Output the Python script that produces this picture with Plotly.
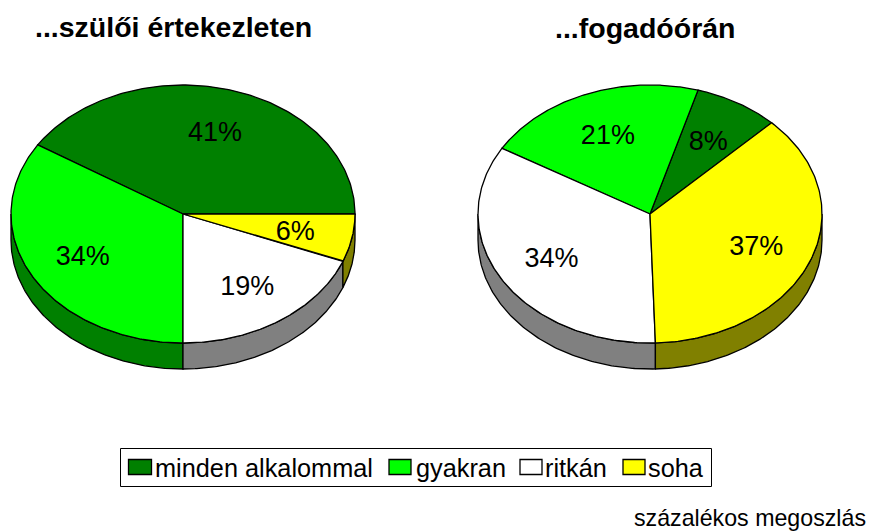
import numpy as np
import plotly.graph_objects as go

categories = ["minden alkalommal", "gyakran", "ritkán", "soha"]
szuloi_values = [41, 34, 19, 6]
fogado_values = [8, 21, 34, 37]
titles = ["...szülői értekezleten", "...fogadóórán"]
note = "százalékos megoszlás"

top_colors = ["#008000", "#00ff00", "#ffffff", "#ffff00"]
side_colors = ["#008000", "#008000", "#808080", "#808000"]

RX, RY, DEPTH = 172, 129, 26
LW = 1.3
FONT = "Liberation Sans, Arial, sans-serif"

fig = go.Figure()


def ell(cx, cy, deg):
    t = np.radians(deg)
    return cx + RX * np.cos(t), cy - RY * np.sin(t)


def draw_pie(values, cx, cy, start):
    total = sum(values)
    edges = [start]
    for v in values:
        edges.append(edges[-1] + 360 * v / total)
    # side walls
    for i, name in enumerate(categories):
        a, b = max(edges[i], 180), min(edges[i + 1], 360)
        if b <= a:
            continue
        ts = np.linspace(a, b, 120)
        x, y = ell(cx, cy, ts)
        px = np.concatenate([x, x[::-1], x[:1]])
        py = np.concatenate([y, (y + DEPTH)[::-1], y[:1]])
        fig.add_trace(go.Scatter(x=px, y=py, mode="lines", fill="toself", fillcolor=side_colors[i],
                                 line=dict(color="black", width=LW), name=name, showlegend=False,
                                 hoverinfo="skip"))
    # top wedges
    for i, name in enumerate(categories):
        ts = np.linspace(edges[i], edges[i + 1], 160)
        x, y = ell(cx, cy, ts)
        px = np.concatenate([[cx], x, [cx]])
        py = np.concatenate([[cy], y, [cy]])
        fig.add_trace(go.Scatter(x=px, y=py, mode="lines", fill="toself", fillcolor=top_colors[i],
                                 line=dict(color="black", width=LW), name=name, showlegend=False,
                                 hoverinfo="skip"))
    # percentage labels
    mids = [(edges[i] + edges[i + 1]) / 2 for i in range(len(values))]
    lx, ly = [], []
    for m in mids:
        t = np.radians(m)
        lx.append(cx + 0.665 * RX * np.cos(t))
        ly.append(cy + 3 - 0.665 * RY * np.sin(t))
    fig.add_trace(go.Scatter(x=lx, y=ly, mode="text", text=[f"{v}%" for v in values],
                             textposition="middle center", textfont=dict(family=FONT, size=27, color="black"),
                             showlegend=False, hoverinfo="skip"))


draw_pie(szuloi_values, 183, 214, 0)
draw_pie(fogado_values, 650, 214, 45)

annotations = [
    dict(x=173.5, y=27, text=f"<b>{titles[0]}</b>", font=dict(family=FONT, size=28.5, color="black")),
    dict(x=645, y=28, text=f"<b>{titles[1]}</b>", font=dict(family=FONT, size=28.5, color="black")),
    dict(x=867, y=518, text=note, xanchor="right", font=dict(family=FONT, size=23.2, color="black")),
]
shapes = [dict(type="rect", x0=120.5, x1=711.5, y0=448.5, y1=486.5, line=dict(color="black", width=1),
               fillcolor="white", layer="below")]
swatch_x = [(128.5, 151.5), (389, 411), (520, 542), (623, 645)]
text_x = [154, 415, 544, 647]
for i, name in enumerate(categories):
    shapes.append(dict(type="rect", x0=swatch_x[i][0], x1=swatch_x[i][1], y0=459.5, y1=474.5,
                       line=dict(color="black", width=1.3), fillcolor=top_colors[i]))
    annotations.append(dict(x=text_x[i], y=467.5, text=name, xanchor="left",
                            font=dict(family=FONT, size=25.3, color="black")))
for a in annotations:
    a.update(xref="x", yref="y", showarrow=False, yanchor="middle", borderpad=0)
    a.setdefault("xanchor", "center")
for s in shapes:
    s.update(xref="x", yref="y")

fig.update_layout(
    width=873, height=531, margin=dict(l=0, r=0, t=0, b=0),
    paper_bgcolor="white", plot_bgcolor="white", showlegend=False,
    xaxis=dict(range=[0, 873], visible=False, fixedrange=True),
    yaxis=dict(range=[531, 0], visible=False, fixedrange=True),
    annotations=annotations, shapes=shapes,
)
fig.write_html("out.html", config=dict(displayModeBar=False),
               post_script="document.body.style.margin='0';")
